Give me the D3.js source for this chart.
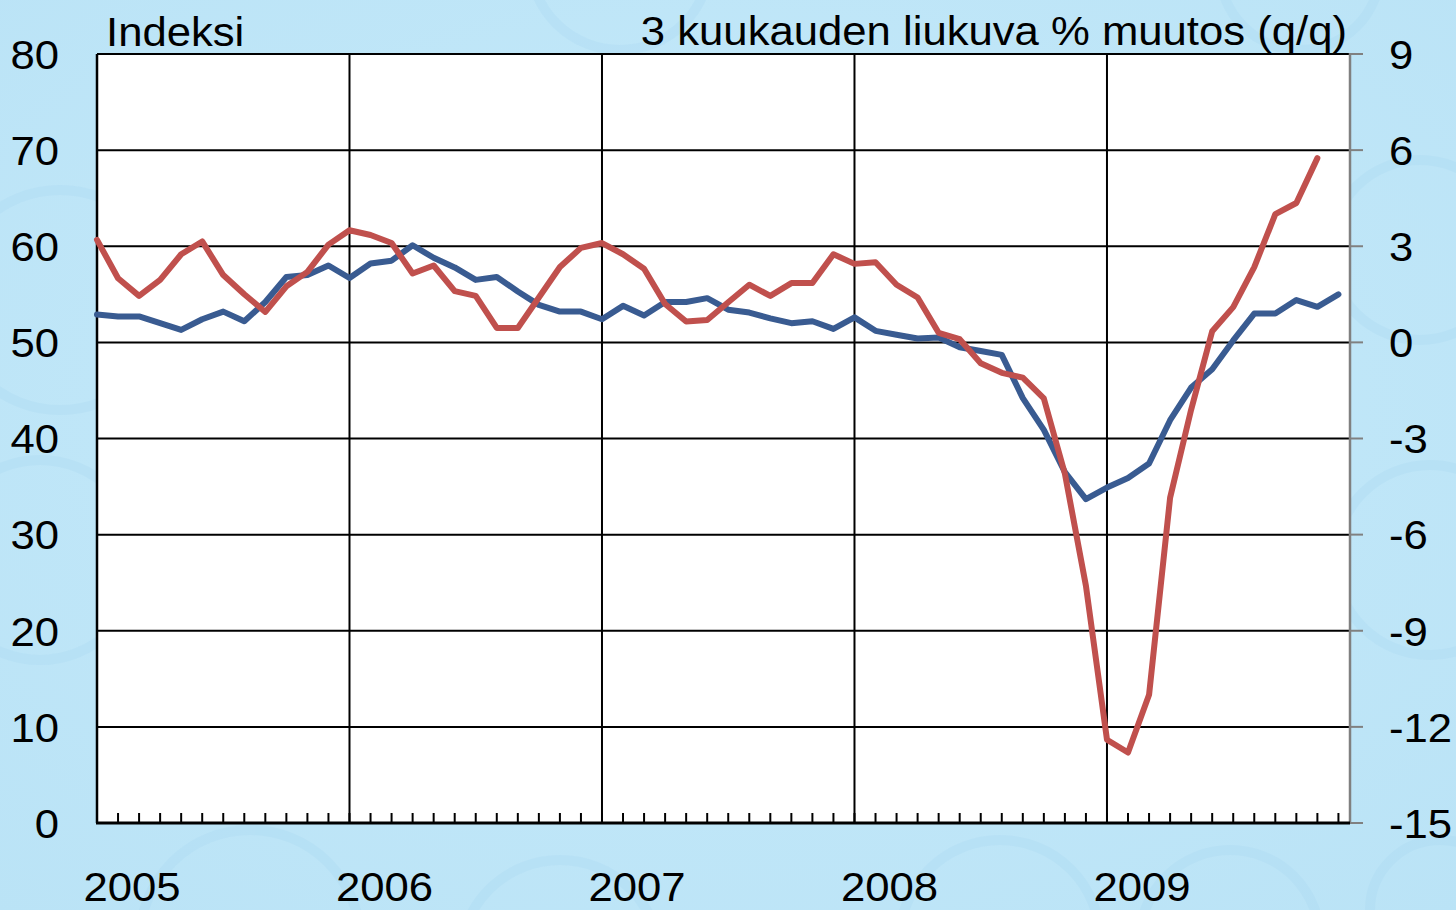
<!DOCTYPE html>
<html>
<head>
<meta charset="utf-8">
<script src="https://cdn.jsdelivr.net/npm/d3@7"></script>
<style>
  html, body { margin: 0; padding: 0; background: #c2e7f8; }
  svg { display: block; }
  text { font-family: "Liberation Sans", Arial, sans-serif; fill: #000; }
</style>
</head>
<body>
<svg id="chart" width="1456" height="910"></svg>
<script>
// ---- data ----
const years = ["2005", "2006", "2007", "2008", "2009"];
const leftTicks = [0, 10, 20, 30, 40, 50, 60, 70, 80];
const rightTicks = [-15, -12, -9, -6, -3, 0, 3, 6, 9];
// monthly values starting Jan 2005 (month index 0)
const indexValues = [
  52.9, 52.7, 52.7, 52.0, 51.3, 52.4, 53.2, 52.2, 54.2, 56.8, 57.0, 58.0,
  56.7, 58.2, 58.5, 60.1, 58.8, 57.8, 56.5, 56.8, 55.3, 53.9, 53.2, 53.2,
  52.4, 53.8, 52.8, 54.2, 54.2, 54.6, 53.4, 53.1, 52.5, 52.0, 52.2, 51.4,
  52.6, 51.2, 50.8, 50.4, 50.5, 49.5, 49.1, 48.7, 44.2, 40.9, 36.5, 33.7,
  34.9, 35.9, 37.4, 41.9, 45.3, 47.2, 50.2, 53.0, 53.0, 54.4, 53.7, 55.0
];
const changeValues = [
  3.2, 2.0, 1.45, 1.95, 2.75, 3.15, 2.1, 1.5, 0.95, 1.75, 2.2, 3.05,
  3.5, 3.35, 3.1, 2.15, 2.4, 1.6, 1.45, 0.45, 0.45, 1.4, 2.35, 2.95,
  3.1, 2.75, 2.3, 1.2, 0.65, 0.7, 1.25, 1.8, 1.45, 1.85, 1.85, 2.75,
  2.45, 2.5, 1.8, 1.4, 0.3, 0.1, -0.65, -0.95, -1.1, -1.75, -4.1, -7.6,
  -12.4, -12.8, -11.0, -4.85, -2.1, 0.35, 1.1, 2.35, 4.0, 4.35, 5.75
];
const leftTitle = "Indeksi";
const rightTitle = "3 kuukauden liukuva % muutos (q/q)";

// ---- layout ----
const svg = d3.select("#chart");
const L = 97, R = 1350, T = 54, B = 823;
const fs = 41, sx = 1.065;

// background decoration
const defs = svg.append("defs");
const g1 = defs.append("radialGradient").attr("id", "bgGrad")
  .attr("cx", "50%").attr("cy", "45%").attr("r", "75%");
g1.append("stop").attr("offset", "0%").attr("stop-color", "#c6eafa");
g1.append("stop").attr("offset", "100%").attr("stop-color", "#bae3f6");
svg.append("rect").attr("width", 1456).attr("height", 910).attr("fill", "url(#bgGrad)");
const deco = svg.append("g").attr("fill", "none").attr("stroke", "#a9d8f1").attr("stroke-width", 10).attr("opacity", 0.3);
[[60, 300, 110], [40, 560, 100], [1420, 250, 90], [1430, 560, 95], [250, 940, 110], [560, 960, 100],
 [1000, 940, 100], [1230, 940, 90], [1440, 910, 70], [620, -40, 90], [1300, -30, 80]].forEach(c => {
  deco.append("circle").attr("cx", c[0]).attr("cy", c[1]).attr("r", c[2]);
});

// ---- scales ----
const x = d3.scaleLinear().domain([0, 59.55]).range([L, R]);
const yL = d3.scaleLinear().domain([0, 80]).range([B, T]);
const yR = d3.scaleLinear().domain([-15, 9]).range([B, T]);

// plot area
svg.append("rect").attr("x", L).attr("y", T).attr("width", R - L).attr("height", B - T).attr("fill", "#fff");

// horizontal gridlines
svg.append("g").selectAll("line").data(leftTicks.filter(d => d > 0)).join("line")
  .attr("x1", L).attr("x2", R).attr("y1", d => yL(d)).attr("y2", d => yL(d))
  .attr("stroke", "#000").attr("stroke-width", 2);

// vertical year lines
svg.append("g").selectAll("line").data(years.map((d, i) => i * 12).filter(d => d > 0)).join("line")
  .attr("x1", d => x(d)).attr("x2", d => x(d)).attr("y1", T).attr("y2", B)
  .attr("stroke", "#000").attr("stroke-width", 2);

// month ticks (inside)
const months = d3.range(1, 60);
svg.append("g").selectAll("line").data(months).join("line")
  .attr("x1", d => x(d)).attr("x2", d => x(d)).attr("y1", B).attr("y2", B - 10)
  .attr("stroke", "#000").attr("stroke-width", 2);

// left axis line
svg.append("line").attr("x1", L).attr("x2", L).attr("y1", T).attr("y2", B)
  .attr("stroke", "#000").attr("stroke-width", 2.5);

// right axis (gray) with outward ticks
svg.append("line").attr("x1", R).attr("x2", R).attr("y1", T - 1).attr("y2", B + 1)
  .attr("stroke", "#808080").attr("stroke-width", 2.5);
svg.append("g").selectAll("line").data(rightTicks).join("line")
  .attr("x1", R).attr("x2", R + 13).attr("y1", d => yR(d)).attr("y2", d => yR(d))
  .attr("stroke", "#808080").attr("stroke-width", 2);

// bottom axis line
svg.append("line").attr("x1", L - 1).attr("x2", R).attr("y1", B).attr("y2", B)
  .attr("stroke", "#000").attr("stroke-width", 3);

// series lines
const lineL = d3.line().x((d, i) => x(i)).y(d => yL(d));
const lineR = d3.line().x((d, i) => x(i)).y(d => yR(d));
svg.append("path").datum(indexValues).attr("d", lineL)
  .attr("fill", "none").attr("stroke", "#395b91").attr("stroke-width", 6)
  .attr("stroke-linejoin", "round").attr("stroke-linecap", "round");
svg.append("path").datum(changeValues).attr("d", lineR)
  .attr("fill", "none").attr("stroke", "#c0504d").attr("stroke-width", 6)
  .attr("stroke-linejoin", "round").attr("stroke-linecap", "round");

// text helper: horizontally stretched text
function label(sel, px, py, anchor) {
  return sel.attr("transform", (d, i) => `translate(${px(d, i)},${py(d, i)}) scale(${sx},1)`)
    .attr("text-anchor", anchor).attr("font-size", fs);
}

// tick labels
label(svg.append("g").selectAll("text").data(leftTicks).join("text"),
  () => 59, d => yL(d), "end").attr("dy", "0.36em").text(d => d);
label(svg.append("g").selectAll("text").data(rightTicks).join("text"),
  () => 1389, d => yR(d), "start").attr("dy", "0.36em").text(d => d);
label(svg.append("g").selectAll("text").data(years).join("text"),
  (d, i) => x(i * 12) + 35, () => 901, "middle").text(d => d);

// titles
label(svg.append("text").datum(leftTitle), () => 106, () => 46, "start").text(d => d);
label(svg.append("text").datum(rightTitle), () => 1347, () => 45, "end").text(d => d);
</script>
</body>
</html>
